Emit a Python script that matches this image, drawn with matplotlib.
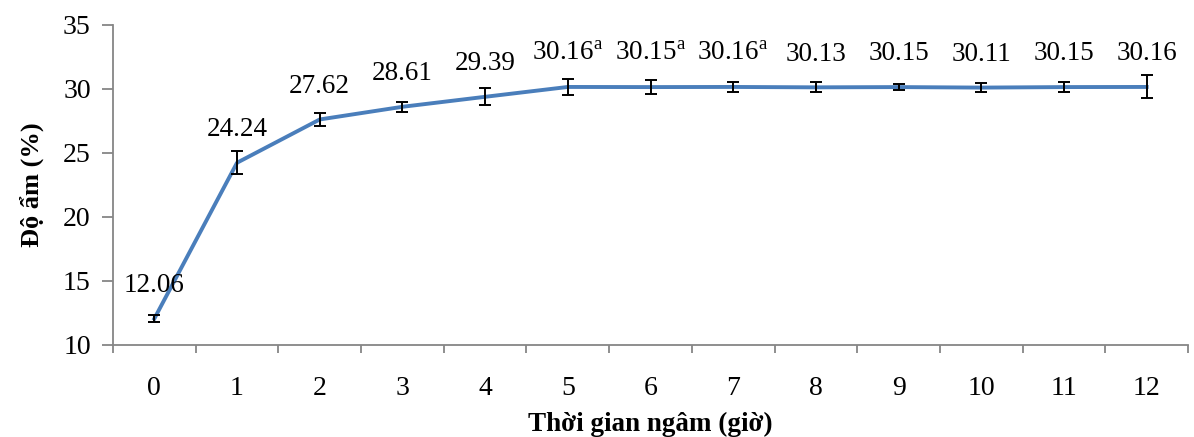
import numpy as np
import matplotlib.pyplot as plt

plt.rcParams['font.family'] = ['Liberation Serif', 'DejaVu Serif']
plt.rcParams['mathtext.fontset'] = 'custom'
plt.rcParams['mathtext.rm'] = 'Liberation Serif'

# moisture vs soaking time
hours = list(range(13))
moisture = [12.06, 24.24, 27.62, 28.61, 29.39, 30.16, 30.15, 30.16, 30.13, 30.15, 30.11, 30.15, 30.16]
err = [0.3, 0.9, 0.5, 0.4, 0.65, 0.65, 0.55, 0.4, 0.4, 0.25, 0.35, 0.4, 0.9]
labels = ["12.06", "24.24", "27.62", "28.61", "29.39", "30.16$^{\\mathrm{a}}$", "30.15$^{\\mathrm{a}}$",
          "30.16$^{\\mathrm{a}}$", "30.13", "30.15", "30.11", "30.15", "30.16"]

fig = plt.figure(figsize=(11.94, 4.37), dpi=100)
ax = fig.add_axes([113 / 1194, 1 - 345 / 437, 1075 / 1194, 320 / 437])

ax.plot(hours, moisture, color='#4a7ebb', lw=2.8, zorder=2)
ax.errorbar(hours, moisture, yerr=err, fmt='none', ecolor='black', elinewidth=1.4,
            capsize=4.5, capthick=1.4, zorder=3)

for x, y, s in zip(hours, moisture, labels):
    ax.annotate(s, (x, y), xytext=(0, 15), textcoords='offset points',
                ha='center', va='bottom', fontsize=19.5)

ax.set_xlim(-0.5, 12.5)
ax.set_ylim(10, 35)
ax.set_yticks(range(10, 36, 5))
ax.set_xticks(hours)
ax.set_xticks(np.arange(-0.5, 13, 1), minor=True)
ax.tick_params(axis='x', which='major', length=0, pad=22, labelsize=20)
ax.tick_params(axis='x', which='minor', length=6, width=1.3, color='#868686', direction='out')
ax.tick_params(axis='y', length=8, width=1.3, color='#868686', pad=8, labelsize=20)

for side in ['top', 'right']:
    ax.spines[side].set_visible(False)
for side in ['left', 'bottom']:
    ax.spines[side].set_color('#868686')
    ax.spines[side].set_linewidth(1.3)

ax.set_xlabel('Thời gian ngâm (giờ)', fontsize=19.5, fontweight='bold', labelpad=8)
ax.set_ylabel('Độ ẩm (%)', fontsize=19, fontweight='bold', labelpad=14)

fig.savefig('out.png', dpi=100)
